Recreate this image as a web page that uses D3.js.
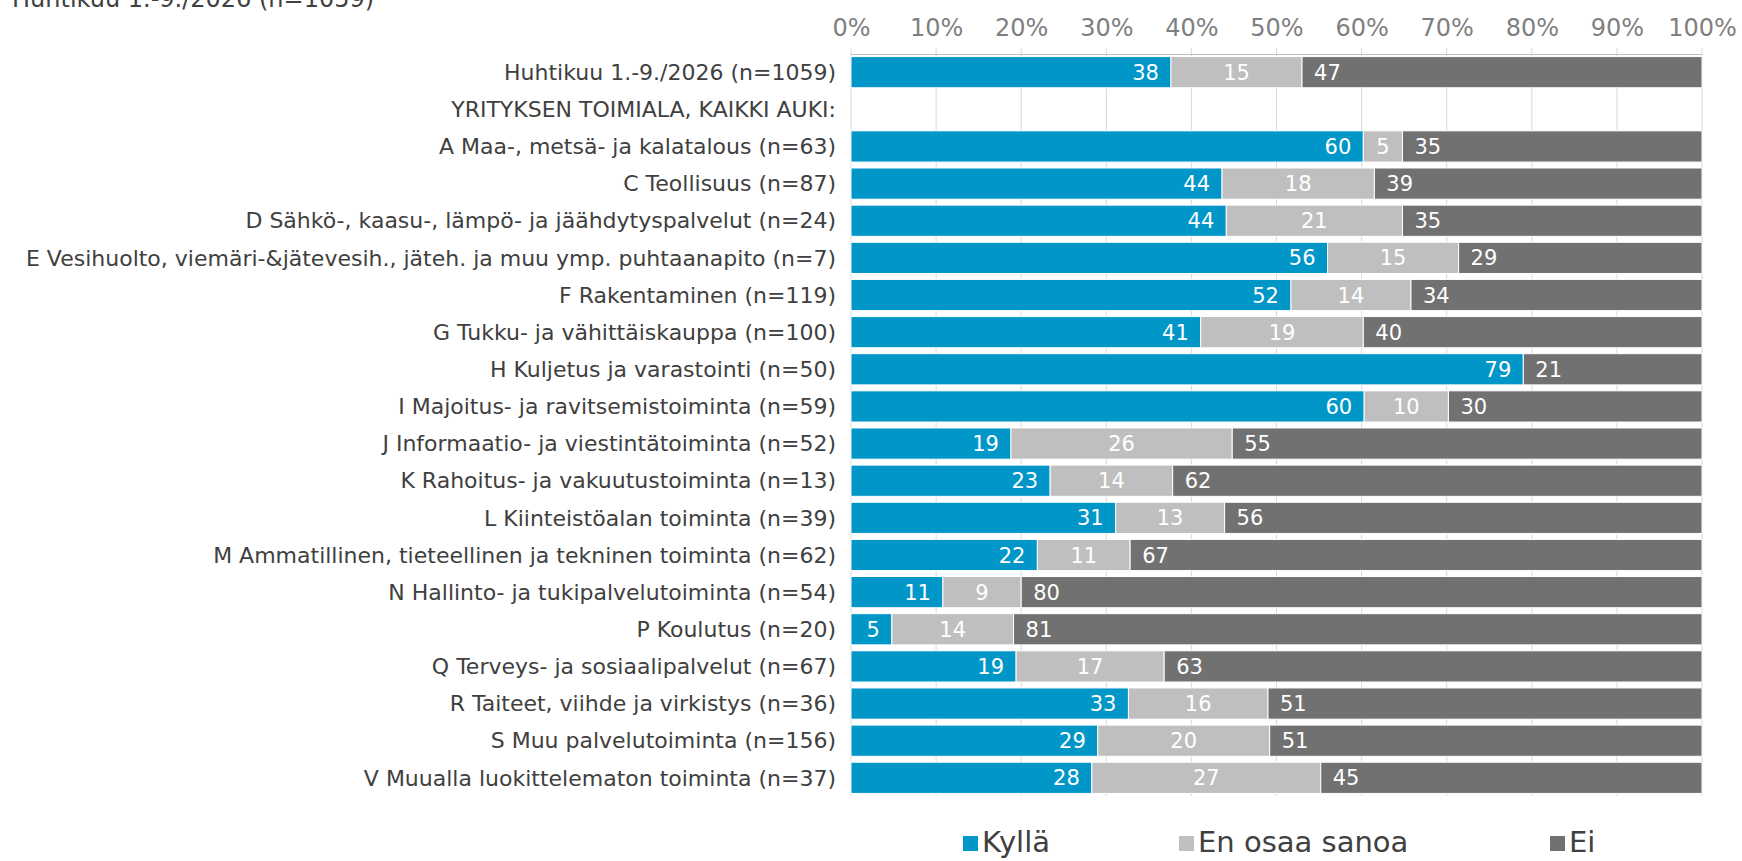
<!DOCTYPE html>
<html>
<head>
<meta charset="utf-8">
<script src="https://cdn.jsdelivr.net/npm/d3@7"></script>
<style>
  body { margin: 0; background: #fff; }
  svg { display: block; font-family: "DejaVu Sans", Verdana, sans-serif; }
</style>
</head>
<body>
<script>
// categories (top to bottom), empty values = heading row without bar
var categories = [
  "Huhtikuu 1.-9./2026 (n=1059)",
  "YRITYKSEN TOIMIALA, KAIKKI AUKI:",
  "A Maa-, metsä- ja kalatalous (n=63)",
  "C Teollisuus (n=87)",
  "D Sähkö-, kaasu-, lämpö- ja jäähdytyspalvelut (n=24)",
  "E Vesihuolto, viemäri-&jätevesih., jäteh. ja muu ymp. puhtaanapito (n=7)",
  "F Rakentaminen (n=119)",
  "G Tukku- ja vähittäiskauppa (n=100)",
  "H Kuljetus ja varastointi (n=50)",
  "I Majoitus- ja ravitsemistoiminta (n=59)",
  "J Informaatio- ja viestintätoiminta (n=52)",
  "K Rahoitus- ja vakuutustoiminta (n=13)",
  "L Kiinteistöalan toiminta (n=39)",
  "M Ammatillinen, tieteellinen ja tekninen toiminta (n=62)",
  "N Hallinto- ja tukipalvelutoiminta (n=54)",
  "P Koulutus (n=20)",
  "Q Terveys- ja sosiaalipalvelut (n=67)",
  "R Taiteet, viihde ja virkistys (n=36)",
  "S Muu palvelutoiminta (n=156)",
  "V Muualla luokittelematon toiminta (n=37)"
];

// series values in percent (null = no bar)
var kylla = [37.6, null, 60.2, 43.6, 44.1, 56.0, 51.7, 41.1, 79.0, 60.3, 18.8, 23.4, 31.1, 21.9, 10.8, 4.8, 19.4, 32.6, 29.0, 28.3];
var enOsaa = [15.4, null, 4.6, 17.9, 20.7, 15.4, 14.1, 19.1, 0, 9.9, 26.0, 14.4, 12.8, 10.9, 9.2, 14.3, 17.4, 16.4, 20.2, 26.9];
var ei = [47.0, null, 35.2, 38.5, 35.2, 28.6, 34.2, 39.8, 21.0, 29.8, 55.2, 62.2, 56.1, 67.2, 80.0, 80.9, 63.2, 51.0, 50.8, 44.8];

var seriesNames = ["Kyllä", "En osaa sanoa", "Ei"];
var seriesColors = ["#0096c8", "#bfbfbf", "#717171"];
var tickValues = [0, 10, 20, 30, 40, 50, 60, 70, 80, 90, 100];
var topTitle = "Huhtikuu 1.-9./2026 (n=1059)";

var W = 1742, H = 861;

var svg = d3.select("body").append("svg")
    .attr("width", W)
    .attr("height", H);

var x = d3.scaleLinear().domain([0, 100]).range([851, 1702]);
var y = d3.scaleBand().domain(categories).range([53.6, 796.4])
    .paddingInner(0.16).paddingOuter(0.08);

// half-cut title at the very top (clipped like in the original)
svg.append("text")
    .attr("x", 12).attr("y", 7)
    .attr("fill", "#404040")
    .style("font-size", "24px")
    .text(topTitle);

// gridlines
svg.append("g").selectAll("line")
    .data(tickValues)
  .enter().append("line")
    .attr("x1", function(d) { return x(d); })
    .attr("x2", function(d) { return x(d); })
    .attr("y1", 48)
    .attr("y2", 796)
    .attr("stroke", "#d9d9d9")
    .attr("stroke-width", 1);

// top axis line
svg.append("line")
    .attr("x1", x(0)).attr("x2", x(100))
    .attr("y1", 54.5).attr("y2", 54.5)
    .attr("stroke", "#bfbfbf");

// tick labels via axis
var axis = svg.append("g")
    .attr("transform", "translate(0,36)")
    .call(d3.axisTop(x).tickValues(tickValues).tickSize(0).tickPadding(0)
      .tickFormat(function(d) { return d + "%"; }));
axis.select(".domain").remove();
axis.selectAll("text")
    .attr("fill", "#7f7f7f")
    .style("font-size", "24px")
    .style("font-family", "DejaVu Sans, Verdana, sans-serif");

// category labels
svg.append("g").selectAll("text")
    .data(categories)
  .enter().append("text")
    .attr("x", 836)
    .attr("y", function(d) { return y(d) + y.bandwidth() / 2; })
    .attr("dy", "0.35em")
    .attr("text-anchor", "end")
    .attr("fill", "#404040")
    .style("font-size", "22px")
    .text(function(d) { return d; });

// stacked rows
var rows = categories.map(function(c, i) {
  return { cat: c, vals: [kylla[i], enOsaa[i], ei[i]] };
}).filter(function(r) { return r.vals[0] !== null; });

rows.forEach(function(r) {
  var start = 0;
  r.vals.forEach(function(v, k) {
    var x0 = x(start), x1 = x(start + v);
    start += v;
    if (v <= 0) return;
    svg.append("rect")
        .attr("x", x0)
        .attr("y", y(r.cat))
        .attr("width", x1 - x0)
        .attr("height", y.bandwidth())
        .attr("fill", seriesColors[k])
        .attr("stroke", "#fff")
        .attr("stroke-width", 1);

    var lx, anchor;
    if (k === 0) { lx = x1 - 12; anchor = "end"; }
    else if (k === 1) { lx = (x0 + x1) / 2; anchor = "middle"; }
    else { lx = x0 + 12; anchor = "start"; }
    svg.append("text")
        .attr("x", lx)
        .attr("y", y(r.cat) + y.bandwidth() / 2)
        .attr("dy", "0.36em")
        .attr("text-anchor", anchor)
        .attr("fill", "#fff")
        .style("font-size", "21px")
        .text(Math.round(v));
  });
});

// legend
var legendX = [963, 1179, 1550];
var legend = svg.append("g").selectAll("g")
    .data(seriesNames)
  .enter().append("g")
    .attr("transform", function(d, i) { return "translate(" + legendX[i] + ",0)"; });
legend.append("rect")
    .attr("x", 0).attr("y", 836)
    .attr("width", 15).attr("height", 15)
    .attr("fill", function(d, i) { return seriesColors[i]; });
legend.append("text")
    .attr("x", 19).attr("y", 852)
    .attr("fill", "#404040")
    .style("font-size", "29px")
    .text(function(d) { return d; });
</script>
</body>
</html>
